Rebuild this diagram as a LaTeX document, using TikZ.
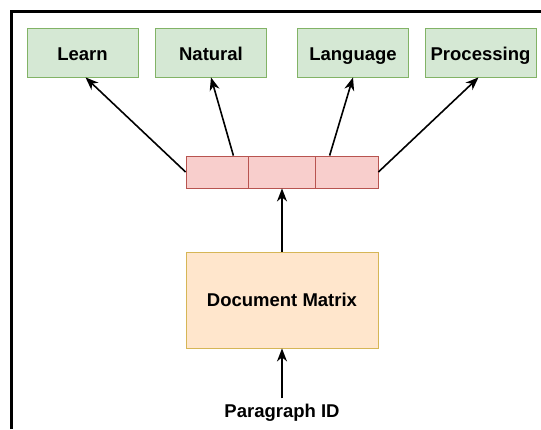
\documentclass[tikz,border=0pt]{standalone}
\usepackage{fontspec}
\setmainfont{Liberation Sans}
\usepackage{xcolor}
\usetikzlibrary{arrows.meta}

\definecolor{wordfill}{HTML}{D5E8D4}
\definecolor{worddraw}{HTML}{82B366}
\definecolor{cellfill}{HTML}{F8CECC}
\definecolor{celldraw}{HTML}{B85450}
\definecolor{matfill}{HTML}{FFE6CC}
\definecolor{matdraw}{HTML}{D6B656}

\tikzset{
  boldtext/.style={font=\bfseries\fontsize{18.5}{22}\selectfont},
  word/.style={boldtext, draw=worddraw, fill=wordfill, line width=0.8pt,
    minimum width=111pt, minimum height=49pt, inner sep=0pt,
    text height=19pt, text depth=4pt},
  cell/.style={draw=celldraw, fill=cellfill, line width=0.8pt,
    minimum height=32pt, inner sep=0pt},
  matbox/.style={boldtext, draw=matdraw, fill=matfill, line width=0.8pt,
    minimum width=192pt, minimum height=96pt, inner sep=0pt},
  arr/.style={-{Stealth[length=13pt,width=10pt,inset=4pt]}, line width=1.6pt},
}

\begin{document}
\begin{tikzpicture}[x=1pt, y=-1pt]
      \useasboundingbox (0,0) rectangle (541,429);
      \draw[line width=3pt] (11,429) -- (11,11) -- (541,11);
      \node[word] (learn) at (82.5,52.5) {Learn};
      \node[word] (natural) at (211,52.5) {Natural};
      \node[word] (language) at (353,52.5) {Language};
      \node[word] (processing) at (480.5,52.5) {Processing};
      \node[cell, minimum width=62pt] (c1) at (217,172) {};
      \node[cell, minimum width=67pt] (c2) at (281.5,172) {};
      \node[cell, minimum width=63pt] (c3) at (346.5,172) {};
      \node[matbox] (docmat) at (282,300) {Document Matrix};
      \node[boldtext, anchor=base, inner sep=5pt] (pid) at (282,417) {Paragraph ID};
      \draw[arr] (c1.west) -- ([xshift=3pt]learn.south);
      \draw[arr] ([xshift=-15pt]c1.north east) -- (natural.south);
      \draw[arr] ([xshift=15pt]c3.north west) -- (language.south);
      \draw[arr] (c3.east) -- ([xshift=-2pt]processing.south);
      \draw[arr] (docmat.north) -- (docmat.north |- c2.south);
      \draw[arr] (pid.north) -- (docmat.south);
    \end{tikzpicture}
\end{document}
